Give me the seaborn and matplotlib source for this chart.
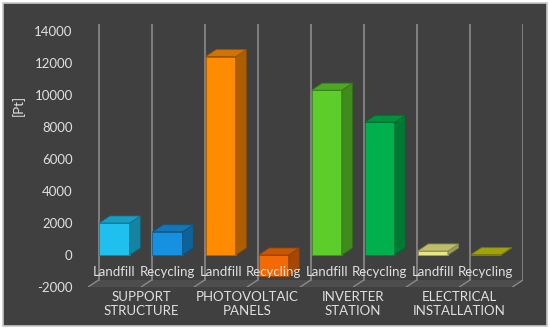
import matplotlib
matplotlib.use("Agg")
import matplotlib.pyplot as plt
import matplotlib.colors as mcolors
from matplotlib.patches import Polygon, Rectangle
import seaborn as sns
import pandas as pd

# ---- data ----
groups = ["SUPPORT\nSTRUCTURE", "PHOTOVOLTAIC\nPANELS", "INVERTER\nSTATION", "ELECTRICAL\nINSTALLATION"]
scenarios = ["Landfill", "Recycling"]
support = [2000, 1450]
photovoltaic = [12400, -1300]
inverter = [10300, 8300]
electrical = [250, 20]
bar_colors = ["#1fc0ee", "#1690e0", "#ff8c00", "#f26a05",
              "#5ccd2a", "#00b04c", "#e6e684", "#c4c40c"]
yticks = [-2000, 0, 2000, 4000, 6000, 8000, 10000, 12000, 14000]

values = support + photovoltaic + inverter + electrical
bar_ids = [f"{g}|{s}" for g in groups for s in scenarios]
df = pd.DataFrame({"bar": bar_ids, "value": values})

BG = "#404040"
TXT = "#e0e0e0"
GRID = "#858585"
FS = 9.5

sns.set_theme(style="dark")
plt.rcParams["font.family"] = ["Lato", "DejaVu Sans"]

fig = plt.figure(figsize=(5.5, 3.29), dpi=100)
fig.patch.set_facecolor("white")
fig.add_artist(Rectangle((0.006, 0.009), 0.988, 0.982, transform=fig.transFigure,
                         facecolor=BG, edgecolor="#c8c8c8", linewidth=1.2, zorder=-10))

W, H = 550, 329
ax = fig.add_axes([88 / W, (H - 287) / H, (523 - 88) / W, (287 - 24) / H])
ax.set_facecolor("none")

dx = 0.2     # depth offset in category units
dy = 440     # depth offset in value units

sns.barplot(data=df, x="bar", y="value", hue="bar", palette=bar_colors,
            width=0.57, legend=False, ax=ax, zorder=3, saturation=1,
            edgecolor="none", linewidth=0)

n = len(bar_ids)
ax.set_xlim(-0.5, n - 0.5 + dx)
ax.set_ylim(-2000, 14000 + dy)

# back wall gridlines
for i in range(n + 1):
    x = i - 0.5 + dx
    ax.plot([x, x], [-2000 + dy, 14000 + dy], color=GRID, lw=1.3, zorder=1)

# floor
floor = Polygon([(-0.5, -2000), (n - 0.5, -2000), (n - 0.5 + dx, -2000 + dy), (-0.5 + dx, -2000 + dy)],
                closed=True, facecolor="#4d4d4d", edgecolor="none", zorder=0.5)
ax.add_patch(floor)
ax.plot([-0.5, n - 0.5], [-2000, -2000], color="#5a5a5a", lw=1.0, zorder=0.6)
for i in range(n + 1):
    x = i - 0.5
    ax.plot([x, x + dx], [-2000, -2000 + dy], color="#8a8a8a", lw=1.0, zorder=0.7)


def shade(c, f):
    r, g, b = mcolors.to_rgb(c)
    return (r * f, g * f, b * f)


# 3D faces for each bar
for patch, col in zip(ax.patches[:n], bar_colors):
    x0 = patch.get_x()
    w = patch.get_width()
    y0 = patch.get_y()
    h = patch.get_height()
    lo, hi = min(y0, y0 + h), max(y0, y0 + h)
    x1 = x0 + w
    patch.set_edgecolor(shade(col, 0.7))
    patch.set_linewidth(0.6)
    side = Polygon([(x1, lo), (x1 + dx, lo + dy), (x1 + dx, hi + dy), (x1, hi)], closed=True,
                   facecolor=shade(col, 0.68), edgecolor=shade(col, 0.55), lw=0.6, zorder=3)
    top = Polygon([(x0, hi), (x1, hi), (x1 + dx, hi + dy), (x0 + dx, hi + dy)], closed=True,
                  facecolor=shade(col, 0.82), edgecolor=shade(col, 0.6), lw=0.6, zorder=3)
    ax.add_patch(side)
    ax.add_patch(top)

# bar labels
for i, bid in enumerate(bar_ids):
    ax.text(i, -1060, bid.split("|")[1], ha="center", va="center", color=TXT,
            fontsize=FS, zorder=5)

# group labels as x ticks
ax.set_xticks([2 * k + 0.5 for k in range(len(groups))])
ax.set_xticklabels(groups, color=TXT, fontsize=FS, linespacing=1.15)
ax.tick_params(axis="x", length=0, pad=3)

ax.set_yticks(yticks)
ax.set_yticklabels([str(v) for v in yticks], color=TXT, fontsize=FS)
ax.tick_params(axis="y", length=0, pad=11)
ax.set_xlabel("")
ax.set_ylabel("[Pt]", color=TXT, fontsize=FS)
ax.yaxis.set_label_coords(-0.145, 0.69)
ax.grid(False)
for s in ax.spines.values():
    s.set_visible(False)

fig.savefig("out.png", dpi=100, facecolor=fig.get_facecolor())
